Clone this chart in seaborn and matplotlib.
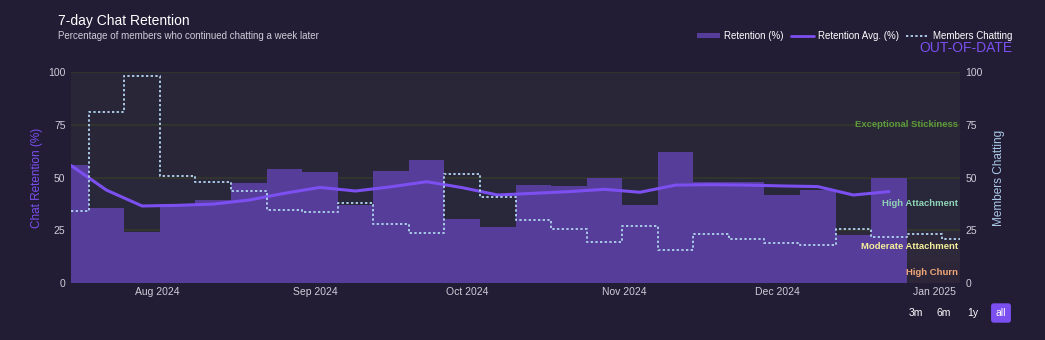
import numpy as np
import pandas as pd
import matplotlib
matplotlib.use("Agg")
import matplotlib.pyplot as plt
import matplotlib.dates as mdates
from matplotlib.lines import Line2D
from matplotlib.patches import Patch
import seaborn as sns

# ---- data ----
week_start = "2024-07-15"
retention = [55.7, 35.5, 24.2, 37.3, 39.3, 47.5, 54.0, 52.8, 36.8, 53.2, 58.3, 30.5,
             26.7, 46.4, 46.0, 49.9, 36.8, 62.2, 47.9, 47.7, 41.9, 44.1, 22.7, 49.9]
retention_avg = [55.7, 44.0, 36.5, 36.8, 37.4, 39.3, 42.5, 45.3, 43.6, 45.6, 48.0, 45.2,
                 41.7, 42.5, 43.3, 44.4, 43.0, 46.4, 46.6, 46.4, 46.0, 45.7, 41.7, 43.3]
members = [34, 81, 98, 50.7, 47.9, 43.8, 34.6, 33.6, 37.8, 27.8, 23.7, 51.7, 40.9,
           29.9, 25.7, 19.6, 27.0, 15.6, 23.0, 20.9, 19.0, 17.8, 25.7, 21.8, 23.0, 20.7]
band_names = ["High Churn", "Moderate Attachment", "High Attachment", "Exceptional Stickiness"]
band_edges = [0, 10, 25, 50, 100]
band_colors = ["#f0a878", "#f5ee9a", "#8fd3b5", "#5f9a3e"]
y_ticks = [0, 25, 50, 75, 100]
range_buttons = ["3m", "6m", "1y", "all"]

ret_dates = pd.date_range(week_start, periods=len(retention), freq="7D")
mem_dates = pd.date_range(week_start, periods=len(members), freq="7D")
df_ret = pd.DataFrame({"date": ret_dates, "retention": retention, "avg": retention_avg})
df_mem = pd.DataFrame({"date": mem_dates, "members": members})

# ---- style ----
sns.set_theme(style="dark")
plt.rcParams["font.family"] = ["Liberation Sans", "DejaVu Sans"]
fig_bg = "#221d35"
ax_bg = "#262237"
purple_bar = "#563d99"
purple_line = "#7c4ff0"
blue_dot = "#a9c8e6"
tick_col = "#cfcdd8"

fig = plt.figure(figsize=(10.45, 3.4), dpi=100, facecolor=fig_bg)
ax = fig.add_axes([71 / 1045, 1 - 283 / 340, (960 - 71) / 1045, (283 - 72) / 340])
ax.set_facecolor(ax_bg)

# bands
for i in range(len(band_names)):
    ax.axhspan(band_edges[i], band_edges[i + 1], color=band_colors[i], alpha=0.035, lw=0, zorder=0)

# grid lines
for yv in y_ticks[1:]:
    ax.axhline(yv, color="#34372c", lw=1.2, zorder=0.5)

# bars
ax.bar(df_ret["date"], df_ret["retention"], width=7, color=purple_bar, align="center",
       linewidth=0, zorder=1)

# avg line
sns.lineplot(data=df_ret, x="date", y="avg", ax=ax, color=purple_line, lw=2.2, zorder=3)

ax.set_xlim(pd.Timestamp("2024-07-15"), pd.Timestamp("2025-01-06"))
ax.set_ylim(0, 100)
ax.set_yticks(y_ticks)
ax.xaxis.set_major_locator(mdates.MonthLocator(bymonthday=1))
ax.xaxis.set_major_formatter(mdates.DateFormatter("%b %Y"))
ax.tick_params(axis="both", colors=tick_col, labelsize=7.5, length=0, pad=4)
ax.tick_params(axis="x", pad=3)
ax.set_xlabel("")
ax.set_ylabel("Chat Retention (%)", color=purple_line, fontsize=8.5, labelpad=4)
for s in ax.spines.values():
    s.set_visible(False)
ax.grid(False)

# twin axis
ax2 = ax.twinx()
sns.lineplot(data=df_mem, x="date", y="members", ax=ax2, color=blue_dot, lw=1.4,
             linestyle=(0, (1.2, 1.2)), drawstyle="steps-mid", zorder=2)
ax2.set_ylim(0, 100)
ax2.set_yticks(y_ticks)
ax2.tick_params(axis="y", colors=tick_col, labelsize=7.5, length=0, pad=4)
ax2.set_ylabel("Members Chatting", color=blue_dot, fontsize=8.5, labelpad=7)
ax2.set_xlim(pd.Timestamp("2024-07-15"), pd.Timestamp("2025-01-06"))
ax2.grid(False)
for s in ax2.spines.values():
    s.set_visible(False)

# band labels
for i, name in enumerate(band_names):
    mid = (band_edges[i] + band_edges[i + 1]) / 2
    ax2.text(0.998, mid, name, transform=ax2.get_yaxis_transform(), ha="right", va="center",
             fontsize=6.8, fontweight="bold", color=band_colors[i], zorder=5)

# title
fig.text(58 / 1045, 1 - 21 / 340, "7-day Chat Retention", color="white", fontsize=10,
         ha="left", va="center")
fig.text(58 / 1045, 1 - 36 / 340, "Percentage of members who continued chatting a week later",
         color="#cfcdd8", fontsize=7, ha="left", va="center")

# legend
handles = [Patch(facecolor=purple_bar, edgecolor="none"),
           Line2D([0], [0], color=purple_line, lw=2),
           Line2D([0], [0], color=blue_dot, lw=1.4, linestyle=(0, (1.2, 1.2)))]
labels = ["Retention (%)", "Retention Avg. (%)", "Members Chatting"]
leg = fig.legend(handles, labels, loc="center right", bbox_to_anchor=(1021 / 1045, 1 - 36 / 340),
                 ncol=3, frameon=False, fontsize=7, labelcolor="white", handlelength=2.4,
                 handleheight=0.5, columnspacing=0.7, handletextpad=0.4)
fig.text(1013 / 1045, 1 - 48 / 340, "OUT-OF-DATE", color=purple_line, fontsize=10,
         ha="right", va="center")

# range buttons
btn_x = [916, 944, 973, 1001]
for bx, lab in zip(btn_x, range_buttons):
    kw = {}
    if lab == "all":
        kw["bbox"] = dict(boxstyle="round,pad=0.45,rounding_size=0.25", fc=purple_line, ec="none")
    fig.text(bx / 1045, 1 - 313 / 340, lab, color="white", fontsize=7.5, ha="center", va="center", **kw)

fig.savefig("out.png", dpi=100, facecolor=fig_bg)
